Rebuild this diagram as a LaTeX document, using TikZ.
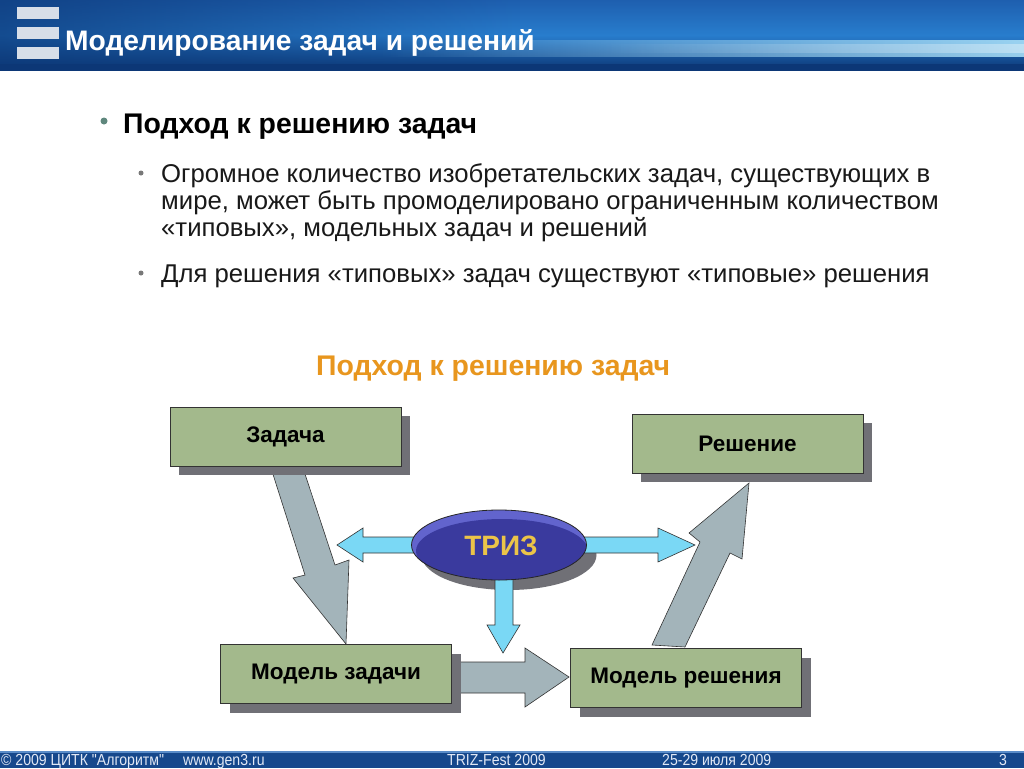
\documentclass[tikz,border=0pt]{standalone}
\usepackage{fontspec}
\setmainfont{Liberation Sans}
\newfontfamily\narrowfont[FakeStretch=0.88]{Liberation Sans}
\usetikzlibrary{shapes.geometric,shadows,fadings}
\definecolor{boxgreen}{RGB}{163,185,140}
\definecolor{shadowgray}{RGB}{112,112,118}
\definecolor{arrowgray}{RGB}{163,180,186}
\definecolor{arrowblue}{RGB}{122,216,245}
\definecolor{trizdark}{RGB}{58,58,158}
\definecolor{trizlight}{RGB}{98,100,205}
\definecolor{trizgold}{RGB}{236,196,72}
\definecolor{headorange}{RGB}{232,150,30}
\definecolor{bulletteal}{RGB}{95,135,125}
\definecolor{bulletgray}{RGB}{120,120,120}
\definecolor{hdrtop}{RGB}{30,95,175}
\definecolor{hdrmid}{RGB}{40,125,205}
\definecolor{hdrbot}{RGB}{12,55,118}
\definecolor{streak}{RGB}{175,228,250}
\definecolor{barcol}{RGB}{215,222,232}
\definecolor{foot}{RGB}{22,72,140}
\definecolor{footline}{RGB}{90,140,200}
\definecolor{foottext}{RGB}{225,232,245}
\tikzfading[name=fadeinright, left color=transparent!100, right color=transparent!0]
\tikzfading[name=fadeoutright, left color=transparent!0, right color=transparent!100]
\begin{document}
\begin{tikzpicture}[x=1pt,y=-1pt,
  box/.style={draw=black!80, line width=0.8pt, fill=boxgreen, minimum width=231pt, minimum height=59pt, inner sep=0pt,
     font=\bfseries\fontsize{22.5}{26}\selectfont,
     general shadow={fill=shadowgray, shadow xshift=9pt, shadow yshift=-9pt}},
  grayarrow/.style={draw=black!80, line width=0.6pt, fill=arrowgray, line join=miter},
  bluearrow/.style={draw=black!80, line width=0.6pt, fill=arrowblue, line join=miter},
  bodytext/.style={anchor=base west, inner sep=0pt, font=\fontsize{25.7}{30}\selectfont, text=black!90},
  bigtext/.style={anchor=base west, inner sep=0pt, font=\bfseries\fontsize{28.4}{32}\selectfont},
  foottxt/.style={anchor=base west, inner sep=0pt, font=\narrowfont\fontsize{16}{18}\selectfont, text=foottext}]
\useasboundingbox (0,0) rectangle (1024,768);
\fill[white] (0,0) rectangle (1024,768);

% ---------- header ----------
\shade[top color=hdrtop, bottom color=hdrbot, middle color=hdrmid] (0,0) rectangle (1024,70);
\fill[hdrbot, path fading=fadeoutright, opacity=0.7] (0,0) rectangle (520,70);
\fill[streak, path fading=fadeinright, opacity=0.85] (380,40) rectangle (1024,57);
\fill[white, path fading=fadeinright, opacity=0.35] (600,44) rectangle (1024,53);
\fill[hdrbot] (0,64) rectangle (1024,70);
\fill[barcol] (17,7) rectangle (59,19);
\fill[barcol] (17,27) rectangle (59,39);
\fill[barcol] (17,47) rectangle (59,59);
\node[anchor=base west, inner sep=0pt, text=white, font=\bfseries\fontsize{28.2}{32}\selectfont] (title) at (65,50) {Моделирование задач и решений};

% ---------- bullets ----------
\fill[bulletteal] (104,121) circle (3.5);
\node[bigtext] (b1) at (123,133) {Подход к решению задач};
\fill[bulletgray] (141,173) circle (2.5);
\node[bodytext] (l1) at (161,182) {Огромное количество изобретательских задач, существующих в};
\node[bodytext] (l2) at (161,209) {мире, может быть промоделировано ограниченным количеством};
\node[bodytext] (l3) at (161,236) {«типовых», модельных задач и решений};
\fill[bulletgray] (141,273) circle (2.5);
\node[bodytext] (l4) at (161,282) {Для решения «типовых» задач существуют «типовые» решения};

\node[bigtext, text=headorange] (heading) at (316,375) {Подход к решению задач};

% ---------- big gray arrows ----------
\draw[grayarrow] (271,468) -- (303,468) -- (335,565) -- (349,560) -- (346,644) -- (293,578) -- (305,575) -- cycle;
\draw[grayarrow] (652,645) -- (685,647) -- (730,553) -- (742,559) -- (749,483) -- (689,533) -- (700,542) -- cycle;
\draw[grayarrow] (445,662) -- (525,662) -- (525,648) -- (569,677) -- (525,707) -- (525,693) -- (445,693) -- cycle;

% ---------- boxes ----------
\node[box] (zadacha) at (285.5,436.5) {Задача};
\node[box] (reshenie) at (747.5,443.5) {Решение};
\node[box] (mzad) at (336,674) {Модель задачи};
\node[box] (mresh) at (686,678) {Модель решения};

% ---------- TRIZ ----------
\coordinate (tc) at (499,545);
\fill[shadowgray] ([xshift=10pt,yshift=-10pt]tc) ellipse [x radius=87.5, y radius=35];
\draw[bluearrow] (416,537) -- (363,537) -- (363,528) -- (337,545) -- (363,562) -- (363,553) -- (416,553) -- cycle;
\draw[bluearrow] (582,537) -- (658,537) -- (658,528) -- (695,545) -- (658,562) -- (658,553) -- (582,553) -- cycle;
\draw[bluearrow] (495,572) -- (495,625) -- (487,625) -- (503,653) -- (520,625) -- (513,625) -- (513,572) -- cycle;
\begin{scope}
  \clip (tc) ellipse [x radius=87.5, y radius=35];
  \fill[trizlight] (tc) ellipse [x radius=87.5, y radius=35];
  \fill[trizdark] ([xshift=3pt,yshift=-6pt]tc) ellipse [x radius=86, y radius=32];
\end{scope}
\draw[black!85, line width=0.8pt] (tc) ellipse [x radius=87.5, y radius=35];
\node[inner sep=0pt, text=trizgold, font=\bfseries\fontsize{28}{32}\selectfont] (triz) at (501,546) {ТРИЗ};

% ---------- footer ----------
\fill[foot] (0,752) rectangle (1024,768);
\fill[footline] (0,751) rectangle (1024,752.5);
\node[foottxt] (f1) at (1,765) {© 2009 ЦИТК "Алгоритм"};
\node[foottxt] (f2) at (183,765) {www.gen3.ru};
\node[foottxt] (f3) at (447,765) {TRIZ-Fest 2009};
\node[foottxt] (f4) at (662,765) {25-29 июля 2009};
\node[foottxt] (f5) at (999,765) {3};
\end{tikzpicture}
\end{document}
